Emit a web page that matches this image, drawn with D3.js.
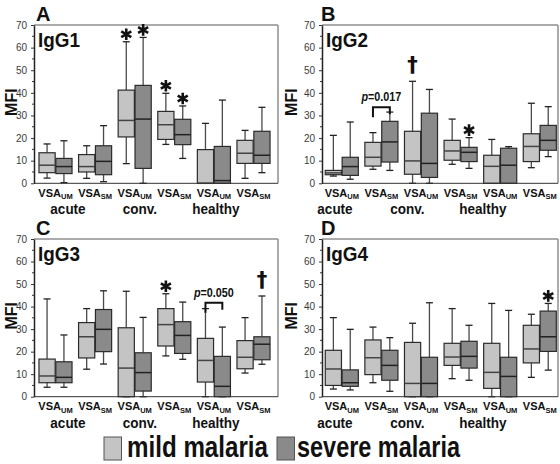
<!DOCTYPE html>
<html><head><meta charset="utf-8">
<script src="https://cdn.jsdelivr.net/npm/d3@7"></script>
<style>
html,body{margin:0;padding:0;background:#fff;}
svg{display:block;font-family:"Liberation Sans",Arial,sans-serif;}
</style></head><body><svg id="c" width="560" height="464"></svg>
<script>
// ---------- data ----------
const groups = ["acute", "conv.", "healthy"];
const antigens = ["UM", "SM"];              // VSA subscripts
const series = ["mild malaria", "severe malaria"];
const panelLetters = ["A", "B", "C", "D"];
const panelTitles = ["IgG1", "IgG2", "IgG3", "IgG4"];
const yTicks = [0, 10, 20, 30, 40, 50, 60, 70];
const yMinorTicks = [5, 15, 25, 35, 45, 55, 65];

// [min, q1, median, q3, max] for acute-UM, acute-SM, conv-UM, conv-SM, healthy-UM, healthy-SM
const igg1Mild   = [[2.3,4.7,8,13.5,17.4],[2.2,5,7.4,12.7,16.6],[8.7,20.5,27.8,41.2,62.6],[17.2,19.4,25.9,31.8,39.8],[0,0,0,14.9,26.5],[2.2,8.8,13.3,19,23.4]];
const igg1Severe = [[0.3,4.3,7.4,11,18.8],[0.7,3.8,9.7,16.6,25.5],[0,6.6,28.4,43.3,64.5],[11,17.1,21.5,28.3,34.2],[0,0,1.2,16.3,36.8],[4.7,8.8,12.4,23,33.6]];
const igg2Mild   = [[3.2,3.8,4.6,5.7,21.2],[6.2,7.6,11.5,18.1,22.4],[0,4,9.9,23,45.1],[8.4,10.2,14.3,19,28.4],[0,0,7.5,12.4,19.4],[6.9,9.6,16.3,21.9,35.4]];
const igg2Severe = [[1.8,3.5,7.4,11.5,27.1],[5.7,9.4,18.3,27.4,31.5],[0,2.6,8.8,31,41.5],[6.6,9.6,13.7,15.9,20.2],[0,0,8,15.5,16.2],[11.8,14.6,19,25.6,33.9]];
const igg3Mild   = [[4.2,6.2,9.2,16.7,43.4],[12.2,17.2,26.6,32.9,39.1],[0,0,12.7,30.6,46.8],[18.1,22.5,32,39.1,45.7],[0,6.5,16.1,25.9,39.1],[10.5,12.4,17.5,24.9,35.1]];
const igg3Severe = [[4.2,6.2,8.6,15.5,27.4],[14.5,20,29.9,38.7,47],[0,2.5,10.7,19.5,35.2],[16.6,19.2,27.2,33.3,42],[0,0,4.6,17.9,30.9],[14.4,16.4,23.3,26.6,44.7]];
const igg4Mild   = [[3.4,5,12.3,20.6,35.1],[6.2,9.8,17.3,25.2,30.9],[0,0,5.9,24.1,32.6],[8,13.9,17.6,23.7,39.1],[0,3.7,10.8,23.7,41.4],[8.6,15,21.2,31.7,36.6]];
const igg4Severe = [[3,4.6,6.2,11.9,29.9],[2.4,7.3,13.9,20.6,26.2],[0,0,5.9,17.5,41.7],[7.3,12.7,17.9,24.6,31.7],[0,0,9,17.5,38.3],[11.8,20.1,26.6,38,41.4]];

// significance marks: panel, slot index, series index, symbol
const sigMarks = [
  {panel:0, slot:2, s:0, sym:"*"}, {panel:0, slot:2, s:1, sym:"*"},
  {panel:0, slot:3, s:0, sym:"*"}, {panel:0, slot:3, s:1, sym:"*"},
  {panel:1, slot:2, s:0, sym:"†"}, {panel:1, slot:3, s:1, sym:"*"},
  {panel:2, slot:3, s:0, sym:"*"}, {panel:2, slot:5, s:1, sym:"†"},
  {panel:3, slot:5, s:1, sym:"*"}
];
// p-value brackets: panel, slot, bracket height (MFI), label
const pBrackets = [
  {panel:1, slot:1, value:33.6, label:"0.017"},
  {panel:2, slot:4, value:41.7, label:"0.050"}
];

// ---------- layout ----------
const colors = ["#c4c4c4", "#8a8a8a"];
const cols = [
  {left:34, right:278, b0:35.7, b1:273.3, groupX:[68,140,216], mfiX:11, letterX:36},
  {left:322, right:558, b0:322, b1:559.6, groupX:[335,407.5,483], mfiX:291, letterX:321}
];
const rows = [{top:25, bottom:183.3}, {top:239, bottom:396.7}];

const slots = groups.flatMap(g => antigens.map(a => g + "|" + a));
const panelData = [[igg1Mild, igg1Severe],[igg2Mild, igg2Severe],[igg3Mild, igg3Severe],[igg4Mild, igg4Severe]];

const svg = d3.select("#c");

function compress(sel, k) {
  sel.each(function(){
    const L = this.getComputedTextLength();
    d3.select(this).attr("textLength", L * k).attr("lengthAdjust", "spacingAndGlyphs");
  });
}

panelData.forEach((pd, p) => {
  const col = cols[p % 2], row = rows[Math.floor(p / 2)];
  const y = d3.scaleLinear().domain([0, 70]).range([row.bottom, row.top]);
  const x = d3.scaleBand().domain(slots).range([col.b0, col.b1]).paddingInner(0.165).paddingOuter(0.0825);
  const xs = d3.scaleBand().domain(series).range([0, x.bandwidth()]).paddingInner(0.04);
  const g = svg.append("g");
  const cx = (si, s) => x(slots[si]) + xs(series[s]) + xs.bandwidth() / 2;

  // frame
  g.append("line").attr("x1", col.left).attr("x2", col.right).attr("y1", row.top).attr("y2", row.top)
    .attr("stroke", "#8f8f8f").attr("stroke-width", 1.5);
  g.append("line").attr("x1", col.right).attr("x2", col.right).attr("y1", row.top).attr("y2", row.bottom)
    .attr("stroke", "#8f8f8f").attr("stroke-width", 1.5);

  // boxes
  pd.forEach((arr, s) => {
    arr.forEach((d, si) => {
      const [mn, q1, md, q3, mx] = d;
      const bx = x(slots[si]) + xs(series[s]), bw = xs.bandwidth(), c = bx + bw / 2;
      const bg = g.append("g");
      bg.append("line").attr("x1", c).attr("x2", c).attr("y1", y(mx)).attr("y2", y(q3))
        .attr("stroke", "#4a4a4a").attr("stroke-width", 1.3);
      bg.append("line").attr("x1", c).attr("x2", c).attr("y1", y(q1)).attr("y2", y(mn))
        .attr("stroke", "#4a4a4a").attr("stroke-width", 1.3);
      [mx, mn].forEach(v => bg.append("line").attr("x1", c - 3.5).attr("x2", c + 3.5)
        .attr("y1", y(v)).attr("y2", y(v)).attr("stroke", "#222").attr("stroke-width", 1.3));
      bg.append("rect").attr("x", bx).attr("y", y(q3)).attr("width", bw).attr("height", y(q1) - y(q3))
        .attr("fill", colors[s]).attr("stroke", "#2b2b2b").attr("stroke-width", 1.2);
      bg.append("line").attr("x1", bx).attr("x2", bx + bw).attr("y1", y(md)).attr("y2", y(md))
        .attr("stroke", s === 0 ? "#444" : "#222").attr("stroke-width", 1.5);
    });
  });

  // bottom line
  g.append("line").attr("x1", col.left).attr("x2", col.right).attr("y1", row.bottom).attr("y2", row.bottom)
    .attr("stroke", "#333").attr("stroke-width", 1);

  // y axis
  const ag = g.append("g").attr("transform", `translate(${col.left},0)`)
    .call(d3.axisLeft(y).tickValues(yTicks).tickSize(3).tickPadding(4).tickSizeOuter(0));
  ag.select(".domain").attr("stroke", "#222").attr("stroke-width", 1.5);
  ag.selectAll(".tick line").attr("stroke", "#333");
  ag.selectAll(".tick text").attr("font-size", 10).attr("fill", "#3a3a3a")
    .attr("font-family", "Liberation Sans, Arial, sans-serif");
  yMinorTicks.forEach(v => ag.append("line").attr("x1", -2).attr("x2", 0).attr("y1", y(v)).attr("y2", y(v))
    .attr("stroke", "#333"));

  // x labels
  slots.forEach((sl, si) => {
    const t = g.append("text").attr("x", x(sl) + x.bandwidth() / 2).attr("y", row.bottom + 13.5)
      .attr("text-anchor", "middle").attr("font-weight", "bold").attr("fill", "#111");
    t.append("tspan").attr("font-size", 11).text("VSA");
    t.append("tspan").attr("font-size", 7.5).attr("dy", 2.5).text(antigens[si % 2]);
  });
  groups.forEach((gr, gi) => {
    g.append("text").attr("x", col.groupX[gi]).attr("y", row.bottom + 31)
      .attr("text-anchor", "middle").attr("font-weight", "bold").attr("font-size", 15).attr("fill", "#111")
      .text(gr).call(compress, 0.9);
  });

  // MFI
  g.append("text").attr("transform", `translate(${col.mfiX},${(row.top + row.bottom) / 2 - 2}) rotate(-90)`)
    .attr("text-anchor", "middle").attr("dominant-baseline", "central")
    .attr("font-weight", "bold").attr("font-size", 16).attr("fill", "#111").text("MFI");

  // letter + title
  g.append("text").attr("x", col.letterX).attr("y", row.top - 4.5).attr("font-weight", "bold")
    .attr("font-size", 20).attr("fill", "#111").text(panelLetters[p]);
  g.append("text").attr("x", col.left + 4).attr("y", row.top + 22).attr("font-weight", "bold")
    .attr("font-size", 21).attr("fill", "#111").text(panelTitles[p]).call(compress, 0.9);

  // significance marks
  sigMarks.filter(m => m.panel === p).forEach(m => {
    const c = cx(m.slot, m.s), top = y(pd[m.s][m.slot][4]);
    if (m.sym === "*") {
      g.append("path").attr("d", d3.symbol(d3.symbolAsterisk, 95)())
        .attr("transform", `translate(${c},${top - 7.5})`)
        .attr("stroke", "#111").attr("stroke-width", 2.6).attr("fill", "none");
    } else {
      g.append("text").attr("x", c).attr("y", top - 9).attr("text-anchor", "middle")
        .attr("font-family", "DejaVu Sans").attr("font-weight", "bold").attr("font-size", 21)
        .attr("fill", "#111").text(m.sym);
    }
  });

  // p brackets
  pBrackets.filter(b => b.panel === p).forEach(b => {
    const x1 = cx(b.slot, 0), x2 = cx(b.slot, 1), yy = y(b.value);
    g.append("path").attr("d", `M${x1},${yy + 10}V${yy}H${x2}V${yy + 7}`)
      .attr("fill", "none").attr("stroke", "#111").attr("stroke-width", 2);
    const t = g.append("text").attr("x", (x1 + x2) / 2).attr("y", yy - 6).attr("text-anchor", "middle")
      .attr("font-weight", "bold").attr("font-size", 12).attr("fill", "#111");
    t.append("tspan").attr("font-style", "italic").text("p");
    t.append("tspan").text("=" + b.label);
    t.call(compress, 0.9);
  });
});

// legend
const legX = [104, 277], legTextX = [127, 297], legW = [141, 163];
series.forEach((s, i) => {
  svg.append("rect").attr("x", legX[i]).attr("y", 437).attr("width", 17.5).attr("height", 23)
    .attr("fill", colors[i]).attr("stroke", "#555").attr("stroke-width", 1);
  svg.append("text").attr("x", legTextX[i]).attr("y", 457).attr("font-weight", "bold")
    .attr("font-size", 29).attr("fill", "#111").attr("textLength", legW[i])
    .attr("lengthAdjust", "spacingAndGlyphs").text(s);
});
</script></body></html>
